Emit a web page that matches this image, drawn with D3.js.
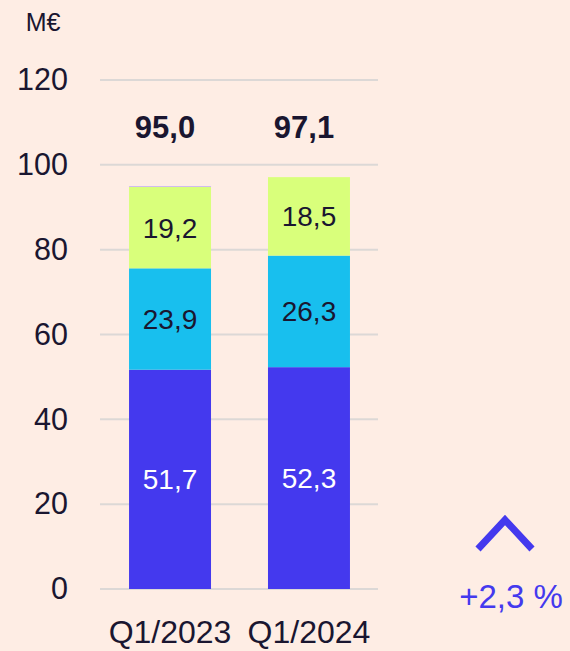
<!DOCTYPE html>
<html><head><meta charset="utf-8">
<script src="https://cdn.jsdelivr.net/npm/d3@7"></script>
<style>
html,body{margin:0;padding:0;background:#FEEDE4;}
svg{display:block;font-family:"Liberation Sans",Arial,sans-serif;}
</style></head>
<body><svg id="c" width="570" height="651"></svg>
<script>
const categories = ["Q1/2023", "Q1/2024"];
const seriesNames = ["base", "mid", "top", "other"];
const baseValues = [51.7, 52.3];
const midValues = [23.9, 26.3];
const topValues = [19.2, 18.5];
const otherValues = [0.2, 0.0];
const totals = ["95,0", "97,1"];
const yTicks = [0, 20, 40, 60, 80, 100, 120];
const unitLabel = "M€";
const changeLabel = "+2,3 %";

const colors = {base:"#4439EE", mid:"#18BFEE", top:"#D9FF7B", other:"#C9B3F2"};
const labelColors = {base:"#FFFFFF", mid:"#1A1630", top:"#1A1630"};
const ink = "#1A1630";

const rows = categories.map((c,i)=>({cat:c, base:baseValues[i], mid:midValues[i], top:topValues[i], other:otherValues[i]}));
const stack = d3.stack().keys(seriesNames)(rows);

const svg = d3.select("#c");
const y = d3.scaleLinear().domain([0,120]).range([589,80]);
const x = d3.scaleBand().domain(categories).range([100,379]).paddingInner(0.41).paddingOuter(0.209);

// gridlines
svg.append("g").selectAll("line").data(yTicks).join("line")
  .attr("x1",100).attr("x2",378)
  .attr("y1",d=>y(d)).attr("y2",d=>y(d))
  .attr("stroke","#DCD8D6").attr("stroke-width",2);

// y axis labels
const yAxis = d3.axisLeft(y).tickValues(yTicks).tickSize(0).tickPadding(0).tickFormat(d3.format("d"));
const ya = svg.append("g").attr("transform","translate(68,0)").call(yAxis);
ya.select(".domain").remove();
ya.selectAll("text").attr("font-size",30.5).attr("fill",ink).attr("font-family","Liberation Sans, Arial, sans-serif");

svg.append("text").attr("x",43).attr("y",31).attr("text-anchor","middle")
  .attr("font-size",25).attr("fill",ink).text(unitLabel);

// bars
svg.append("g").selectAll("g").data(stack).join("g")
  .attr("fill",d=>colors[d.key])
  .selectAll("rect").data(d=>d).join("rect")
  .attr("x",d=>x(d.data.cat)).attr("width",x.bandwidth())
  .attr("y",d=>y(d[1])).attr("height",d=>y(d[0])-y(d[1]));

// segment labels
stack.filter(s=>s.key!=="other").forEach(s=>{
  svg.append("g").selectAll("text").data(s).join("text")
    .attr("x",d=>x(d.data.cat)+x.bandwidth()/2)
    .attr("y",d=>(y(d[0])+y(d[1]))/2)
    .attr("dy","0.36em").attr("text-anchor","middle")
    .attr("font-size",28).attr("fill",labelColors[s.key])
    .text(d=>d3.format(".1f")(d.data[s.key]).replace(".",","));
});

// totals
svg.append("g").selectAll("text").data(rows).join("text")
  .attr("x",d=>x(d.cat)+x.bandwidth()/2-5)
  .attr("y",138)
  .attr("text-anchor","middle").attr("font-size",31).attr("font-weight","bold").attr("fill",ink)
  .text((d,i)=>totals[i]);

// x axis
const xAxis = d3.axisBottom(x).tickSize(0).tickPadding(0);
const xa = svg.append("g").attr("transform","translate(0,643)").call(xAxis);
xa.select(".domain").remove();
xa.selectAll("text").attr("font-size",32).attr("fill",ink).attr("dy",0).attr("font-family","Liberation Sans, Arial, sans-serif");

// change indicator
svg.append("path").attr("d","M478,549 L505,520 L532,549").attr("fill","none")
  .attr("stroke","#4439EE").attr("stroke-width",7);
svg.append("text").attr("x",511).attr("y",608).attr("text-anchor","middle")
  .attr("font-size",33).attr("fill","#4439EE").text(changeLabel);
</script></body></html>
